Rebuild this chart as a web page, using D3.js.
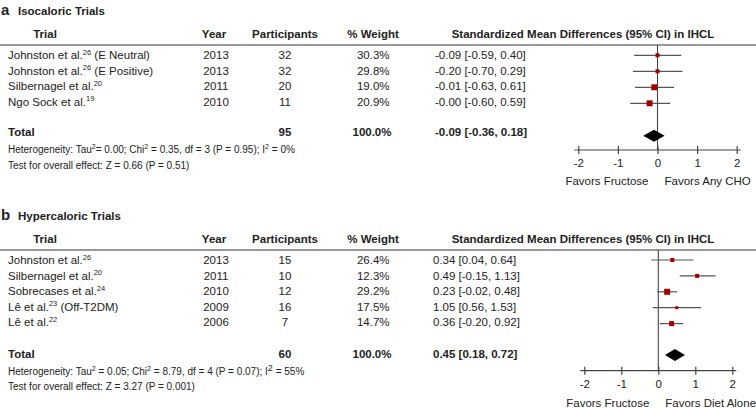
<!DOCTYPE html>
<html>
<head>
<meta charset="utf-8">
<script src="https://cdn.jsdelivr.net/npm/d3@7/dist/d3.min.js"></script>
<style>
  body { margin: 0; background: #fff; }
  svg { display: block; font-family: "Liberation Sans", Arial, sans-serif; }
</style>
</head>
<body>
<svg id="chart" width="756" height="408"></svg>
<script>
// ---- panel a : isocaloric
const namesA = ["Johnston et al.", "Johnston et al.", "Silbernagel et al.", "Ngo Sock et al."]
const refsA = ["26", "26", "20", "19"]
const suffixA = [" (E Neutral)", " (E Positive)", "", ""]
const yearsA = ["2013", "2013", "2011", "2010"]
const partsA = ["32", "32", "20", "11"]
const weightsA = ["30.3%", "29.8%", "19.0%", "20.9%"]
const smdA = ["-0.09 [-0.59, 0.40]", "-0.20 [-0.70, 0.29]", "-0.01 [-0.63, 0.61]", "-0.00 [-0.60, 0.59]"]
// what is actually plotted (row by row)
const estA = [0.00, 0.00, -0.08, -0.20]
const lowA = [-0.59, -0.62, -0.57, -0.69]
const highA = [0.60, 0.63, 0.42, 0.32]
const boxA = [4, 4, 6, 6]
const totalA = ["95", "100.0%", "-0.09 [-0.36, 0.18]"]
const diamondA = [-0.36, -0.09, 0.18]

// ---- panel b : hypercaloric
const namesB = ["Johnston et al.", "Silbernagel et al.", "Sobrecases et al.", "Lê et al.", "Lê et al."]
const refsB = ["26", "20", "24", "23", "22"]
const suffixB = ["", "", "", " (Off-T2DM)", ""]
const yearsB = ["2013", "2011", "2010", "2009", "2006"]
const partsB = ["15", "10", "12", "16", "7"]
const weightsB = ["26.4%", "12.3%", "29.2%", "17.5%", "14.7%"]
const smdB = ["0.34 [0.04, 0.64]", "0.49 [-0.15, 1.13]", "0.23 [-0.02, 0.48]", "1.05 [0.56, 1.53]", "0.36 [-0.20, 0.92]"]
const estB = [0.38, 1.05, 0.24, 0.50, 0.36]
const lowB = [-0.19, 0.58, -0.03, -0.15, 0.04]
const highB = [0.95, 1.55, 0.51, 1.16, 0.67]
const boxB = [4, 4, 6, 3, 5]
const totalB = ["60", "100.0%", "0.45 [0.18, 0.72]"]
const diamondB = [0.18, 0.45, 0.72]

const ticks = [-2, -1, 0, 1, 2]

let svg = d3.select('#chart')
const ink = "#222"

let drawPanel = (p) => {
  let g = svg.append('g')

  // panel letter + title
  g.append('text').attr('x', 1).attr('y', p.top + 5).attr('font-size', 15).attr('font-weight', 'bold')
    .attr('fill', ink).text(p.letter)
  g.append('text').attr('x', 18).attr('y', p.top + 5).attr('font-size', 11.5).attr('font-weight', 'bold')
    .attr('fill', ink).text(p.title)

  // column headers
  let headY = p.top + 24
  let heads = [["Trial", 45], ["Year", 214], ["Participants", 285], ["% Weight", 373], ["Standardized Mean Differences (95% CI) in IHCL", 583]]
  g.selectAll('.head').data(heads).join('text')
    .attr('x', d => d[1]).attr('y', headY).attr('dy', '0.35em')
    .attr('text-anchor', 'middle').attr('font-size', 11.5).attr('font-weight', 'bold').attr('fill', ink)
    .text(d => d[0])
  let lineY = headY + 11
  g.append('line').attr('x1', 0).attr('x2', 756).attr('y1', lineY).attr('y2', lineY)
    .attr('stroke', '#777').attr('stroke-width', 1.6)

  let n = p.names.length
  let rowY = d3.scaleLinear().domain([0, 1]).range([lineY + 10, lineY + 25.6])
  let idx = d3.range(n)

  // trial names with superscripts
  let nm = g.selectAll('.name').data(idx).join('text')
    .attr('x', 8).attr('y', i => rowY(i)).attr('dy', '0.35em')
    .attr('font-size', 11.5).attr('fill', ink)
  nm.append('tspan').text(i => p.names[i])
  nm.append('tspan').attr('dy', -4.5).attr('font-size', 7.5).text(i => p.refs[i])
  nm.append('tspan').attr('dy', 4.5).text(i => p.suffix[i])

  let col = (arr, x, anchor, weight, ys) => {
    g.selectAll(null).data(arr).join('text')
      .attr('x', x).attr('y', (d, i) => ys(i)).attr('dy', '0.35em')
      .attr('text-anchor', anchor).attr('font-size', 11.5).attr('font-weight', weight).attr('fill', ink)
      .text(d => d)
  }
  col(p.years, p.yearX, 'middle', 'normal', rowY)
  col(p.parts, 285, 'middle', 'normal', rowY)
  col(p.weights, 389.5, 'end', 'normal', rowY)
  col(p.smd, p.smdX, 'start', 'normal', rowY)

  // total row
  let totY = rowY(n) + p.totalGap
  g.append('text').attr('x', 8).attr('y', totY).attr('dy', '0.35em').attr('font-size', 11.5)
    .attr('font-weight', 'bold').attr('fill', ink).text('Total')
  col([p.total[0]], 285, 'middle', 'bold', () => totY)
  col([p.total[1]], 391.5, 'end', 'bold', () => totY)
  col([p.total[2]], p.smdX, 'start', 'bold', () => totY)

  // footnotes
  let het = g.append('text').attr('x', 8).attr('y', totY + 21).attr('dy', '0.35em')
    .attr('font-size', 10).attr('fill', ink)
  p.het.forEach(part => {
    if (part.sup) het.append('tspan').attr('dy', -4).attr('font-size', part.size || 7).text(part.sup)
    else het.append('tspan').attr('dy', part.back ? 4 : 0).text(part.t)
  })
  g.append('text').attr('x', 8).attr('y', totY + 33).attr('dy', '0.35em')
    .attr('font-size', 10).attr('fill', ink).text(p.test)

  // forest plot
  let x = d3.scaleLinear().domain([-2, 2]).range(p.xRange)
  let axisY = p.axisY

  g.append('line').attr('x1', x(0)).attr('x2', x(0)).attr('y1', lineY).attr('y2', axisY)
    .attr('stroke', '#444').attr('stroke-width', 1.1)

  g.selectAll('.ci').data(idx).join('line')
    .attr('x1', i => x(p.low[i])).attr('x2', i => x(p.high[i]))
    .attr('y1', i => p.markY(i)).attr('y2', i => p.markY(i))
    .attr('stroke', '#555').attr('stroke-width', 1.2)
  g.selectAll('.box').data(idx).join('rect')
    .attr('x', i => x(p.est[i]) - p.box[i] / 2).attr('y', i => p.markY(i) - p.box[i] / 2)
    .attr('width', i => p.box[i]).attr('height', i => p.box[i])
    .attr('fill', '#a30000')

  let dY = p.diamondY
  let dm = p.diamond
  g.append('path')
    .attr('d', `M${x(dm[0])},${dY} L${x(dm[1])},${dY - 6} L${x(dm[2])},${dY} L${x(dm[1])},${dY + 6} Z`)
    .attr('fill', '#000')

  let axis = d3.axisBottom(x).tickValues(ticks).tickSize(0).tickPadding(9).tickFormat(d => String(d))
  let ax = g.append('g').attr('transform', `translate(0,${axisY})`).call(axis)
  ax.select('.domain').remove()
  ax.append('line').attr('x1', p.xRange[0] - 4).attr('x2', p.xRange[1] + 4)
    .attr('stroke', '#444').attr('stroke-width', 1.2)
  ax.selectAll('.tick').append('line').attr('y1', -4).attr('y2', 4).attr('stroke', '#444').attr('stroke-width', 1.2)
  ax.selectAll('.tick text').attr('font-size', 11.5).attr('fill', ink).attr('font-family', '"Liberation Sans", Arial, sans-serif')

  g.append('text').attr('x', x(0) - 9).attr('y', axisY + p.favGap).attr('dy', '0.35em')
    .attr('text-anchor', 'end').attr('font-size', 11.5).attr('fill', ink).text('Favors Fructose')
  g.append('text').attr('x', x(0) + 7).attr('y', axisY + p.favGap).attr('dy', '0.35em')
    .attr('text-anchor', 'start').attr('font-size', 11.5).attr('fill', ink).text(p.favRight)
}

let markYA = d3.scaleLinear().domain([0, 1]).range([55.3, 71.3])
let markYB = d3.scaleLinear().domain([0, 1]).range([260, 275.9])

drawPanel({
  letter: 'a', title: 'Isocaloric Trials', top: 10,
  names: namesA, refs: refsA, suffix: suffixA, years: yearsA, parts: partsA, weights: weightsA, smd: smdA,
  est: estA, low: lowA, high: highA, box: boxA, total: totalA, diamond: diamondA,
  yearX: 216, smdX: 435, totalGap: 15, xRange: [578.3, 736.7], axisY: 150, diamondY: 135.7, favGap: 31,
  markY: markYA, favRight: 'Favors Any CHO',
  het: [{t: 'Heterogeneity: Tau'}, {sup: '2'}, {t: '= 0.00; Chi', back: true}, {sup: '2'}, {t: ' = 0.35, df = 3 (P = 0.95); I', back: true}, {sup: '2'}, {t: ' = 0%', back: true}],
  test: 'Test for overall effect: Z = 0.66 (P = 0.51)'
})

drawPanel({
  letter: 'b', title: 'Hypercaloric Trials', top: 215,
  names: namesB, refs: refsB, suffix: suffixB, years: yearsB, parts: partsB, weights: weightsB, smd: smdB,
  est: estB, low: lowB, high: highB, box: boxB, total: totalB, diamond: diamondB,
  yearX: 216, smdX: 433, totalGap: 15.5, xRange: [584.3, 732.3], axisY: 370.7, diamondY: 355, favGap: 32,
  markY: markYB, favRight: 'Favors Diet Alone',
  het: [{t: 'Heterogeneity: Tau'}, {sup: '2'}, {t: ' = 0.05; Chi', back: true}, {sup: '2'}, {t: ' = 8.79, df = 4 (P = 0.07); I', back: true}, {sup: '2', size: 9}, {t: ' = 55%', back: true}],
  test: 'Test for overall effect: Z = 3.27 (P = 0.001)'
})
</script>
</body>
</html>
